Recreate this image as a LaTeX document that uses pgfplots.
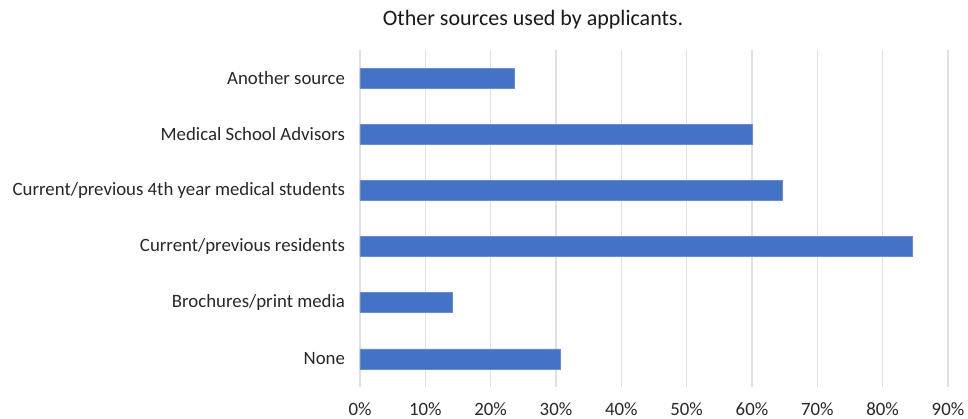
\documentclass[border=0pt]{standalone}
\usepackage{fontspec}
\setmainfont{Carlito}
\usepackage{pgfplots}
\pgfplotsset{compat=1.18}
\definecolor{barblue}{HTML}{4472C4}
\begin{document}
\begin{tikzpicture}
\begin{axis}[
  scale only axis, width=294pt, height=168.5pt,
  xbar, bar width=10pt,
  xmin=0, xmax=90, ymin=-0.5, ymax=5.5,
  xtick={0,10,...,90},
  xticklabels={0\%,10\%,20\%,30\%,40\%,50\%,60\%,70\%,80\%,90\%},
  ytick={0,...,5},
  yticklabels={None,Brochures/print media,Current/previous residents,Current/previous 4th year medical students,Medical School Advisors,Another source},
  axis line style={draw=none},
  major tick length=0pt,
  xmajorgrids, grid style={color=black!12, line width=0.6pt},
  tick label style={font=\fontsize{9.4}{11}\selectfont, text=black!85},
  yticklabel style={xshift=-4pt},
  xticklabel style={yshift=-4.5pt},
  clip=false,
]
\addplot[fill=barblue, draw=barblue!80!white, line width=0.3pt] coordinates {
  (30.6,0) (14.2,1) (84.6,2) (64.6,3) (60.0,4) (23.6,5)
};
\end{axis}
\node[font=\fontsize{11}{13}\selectfont, text=black!90] at ([shift={(86.5pt,15pt)}]current axis.north west) {Other sources used by applicants.};
\pgfresetboundingbox
\path ([shift={(-180pt,-16pt)}]current axis.south west) rectangle ([shift={(10pt,25pt)}]current axis.north east);
\end{tikzpicture}
\end{document}
